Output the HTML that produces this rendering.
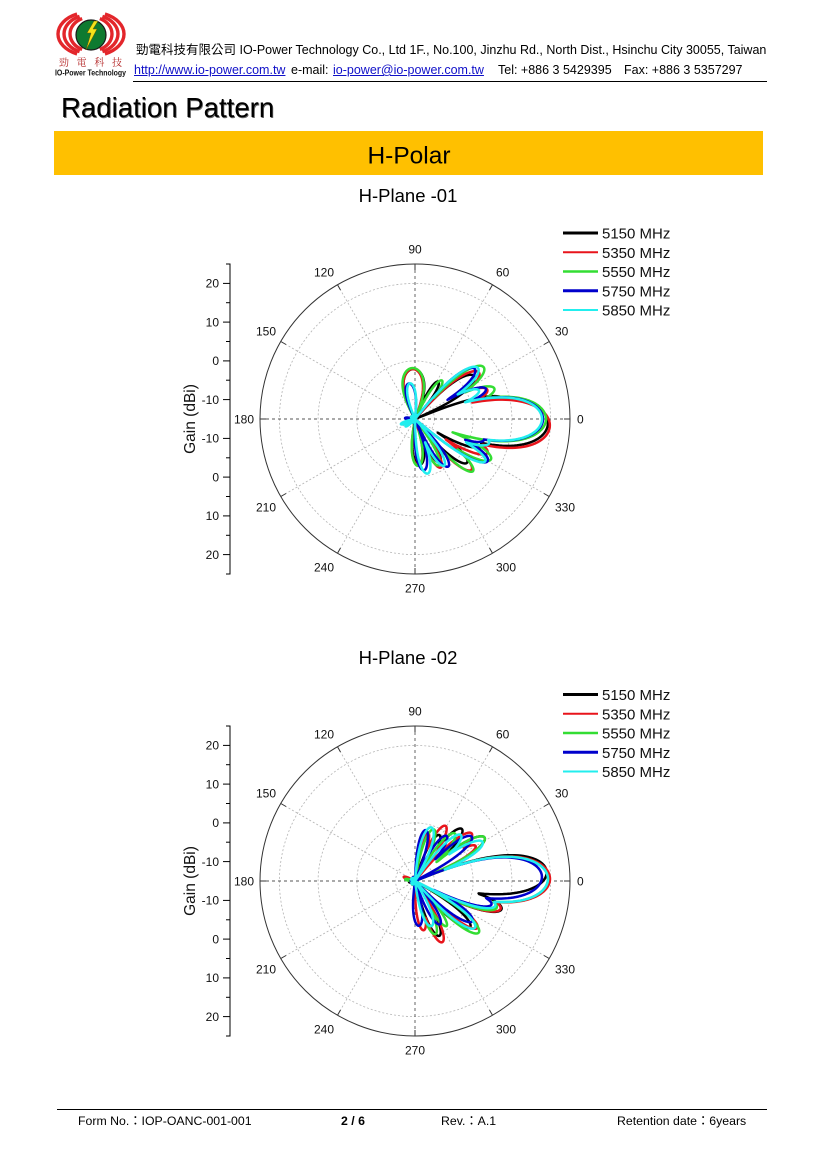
<!DOCTYPE html>
<html>
<head>
<meta charset="utf-8">
<style>
  html,body{margin:0;padding:0;background:#fff;}
  body{width:827px;height:1170px;position:relative;overflow:hidden;font-family:"Liberation Sans","Noto Sans CJK TC",Arial,sans-serif;color:#000;}
  .abs{position:absolute;white-space:nowrap;}
  .h{font-size:12.5px;line-height:14px;}
  .f{font-size:12.3px;line-height:14px;}
  .lnk{color:#1010c8;text-decoration:underline;}
  svg text{font-family:"Liberation Sans",Arial,sans-serif;}
</style>
</head>
<body>

<svg class="abs" style="left:0;top:0" width="827" height="1170" viewBox="0 0 827 1170" xmlns="http://www.w3.org/2000/svg">
  <!-- LOGO -->
  <g fill="none" stroke="#e3262b" stroke-width="3.4">
    <path d="M77.05,14.06 A33,22 0 0 0 77.05,53.94"/>
    <path d="M104.95,14.06 A33,22 0 0 1 104.95,53.94"/>
    <path d="M79.59,16.33 A27,19.5 0 0 0 79.59,51.67"/>
    <path d="M102.41,16.33 A27,19.5 0 0 1 102.41,51.67"/>
    <path d="M82.13,18.59 A21,17 0 0 0 82.13,49.41"/>
    <path d="M99.87,18.59 A21,17 0 0 1 99.87,49.41"/>
  </g>
  <circle cx="91" cy="35" r="15" fill="#0e7a30" stroke="#1a1a1a" stroke-width="1.2"/>
  <polygon points="94,21 87,33 91,33 86,50 97,29 93,29 98,21" fill="#f4e21a" stroke="#6b5a00" stroke-width="0.5"/>
  <text x="59" y="66" font-size="10" fill="#b22222" style="font-family:'Noto Serif CJK SC','Noto Sans CJK TC',serif" textLength="63" lengthAdjust="spacing">勁 電 科 技</text>
  <text x="55" y="75.5" font-size="8.5" font-weight="bold" fill="#111" textLength="71" lengthAdjust="spacingAndGlyphs">IO-Power Technology</text>

  <line x1="133" y1="81.5" x2="767" y2="81.5" stroke="#000" stroke-width="1"/>
  <line x1="57" y1="1109.5" x2="767" y2="1109.5" stroke="#000" stroke-width="1"/>

  <rect x="54" y="131" width="709" height="44" fill="#FFC000"/>
  <text x="409" y="163.5" font-size="24.5" text-anchor="middle">H-Polar</text>

  <text x="408" y="202" font-size="18.5" text-anchor="middle">H-Plane -01</text>
  <text x="408" y="664" font-size="18.5" text-anchor="middle">H-Plane -02</text>

  <!-- ============ CHART 1 ============ -->
  <g transform="translate(415,419)">
    <g fill="none" stroke="#b4b4b4" stroke-width="0.8" stroke-dasharray="2,2">
      <circle r="19.4"/><circle r="58.1"/><circle r="96.9"/><circle r="135.6"/>
      <line x1="0" y1="0" x2="134.2" y2="-77.5"/>
      <line x1="0" y1="0" x2="77.5" y2="-134.2"/>
      <line x1="0" y1="0" x2="-77.5" y2="-134.2"/>
      <line x1="0" y1="0" x2="-134.2" y2="-77.5"/>
      <line x1="0" y1="0" x2="-134.2" y2="77.5"/>
      <line x1="0" y1="0" x2="-77.5" y2="134.2"/>
      <line x1="0" y1="0" x2="77.5" y2="134.2"/>
      <line x1="0" y1="0" x2="134.2" y2="77.5"/>
    </g>
    <g fill="none" stroke="#555" stroke-width="0.9" stroke-dasharray="3,3">
      <line x1="-155" y1="0" x2="155" y2="0"/>
      <line x1="0" y1="-155" x2="0" y2="155"/>
    </g>
    <circle r="155" fill="none" stroke="#333" stroke-width="1"/>
    <g stroke="#333" stroke-width="1">
      <line x1="149" y1="0" x2="155" y2="0"/><line x1="-149" y1="0" x2="-155" y2="0"/>
      <line x1="0" y1="149" x2="0" y2="155"/><line x1="0" y1="-149" x2="0" y2="-155"/>
      <line x1="129" y1="-74.5" x2="134.2" y2="-77.5"/><line x1="74.5" y1="-129" x2="77.5" y2="-134.2"/>
      <line x1="-129" y1="-74.5" x2="-134.2" y2="-77.5"/><line x1="-74.5" y1="-129" x2="-77.5" y2="-134.2"/>
      <line x1="129" y1="74.5" x2="134.2" y2="77.5"/><line x1="74.5" y1="129" x2="77.5" y2="134.2"/>
      <line x1="-129" y1="74.5" x2="-134.2" y2="77.5"/><line x1="-74.5" y1="129" x2="-77.5" y2="134.2"/>
    </g>
    <g font-size="12" fill="#111">
      <text x="0" y="-165.7" text-anchor="middle">90</text>
      <text x="81" y="-142.7">60</text>
      <text x="140" y="-83.7">30</text>
      <text x="162" y="4.3">0</text>
      <text x="140" y="92.3">330</text>
      <text x="81" y="152.3">300</text>
      <text x="0" y="173.3" text-anchor="middle">270</text>
      <text x="-81" y="152.3" text-anchor="end">240</text>
      <text x="-139" y="92.3" text-anchor="end">210</text>
      <text x="-161" y="4.3" text-anchor="end">180</text>
      <text x="-139" y="-83.7" text-anchor="end">150</text>
      <text x="-81" y="-142.7" text-anchor="end">120</text>
    </g>
    <g stroke="#000" stroke-width="1">
      <line x1="-185" y1="-155.5" x2="-185" y2="155.5"/>
      <line x1="-189" y1="-155" x2="-185" y2="-155"/>
      <line x1="-192" y1="-135.6" x2="-185" y2="-135.6"/>
      <line x1="-189" y1="-116.3" x2="-185" y2="-116.3"/>
      <line x1="-192" y1="-96.9" x2="-185" y2="-96.9"/>
      <line x1="-189" y1="-77.5" x2="-185" y2="-77.5"/>
      <line x1="-192" y1="-58.1" x2="-185" y2="-58.1"/>
      <line x1="-189" y1="-38.8" x2="-185" y2="-38.8"/>
      <line x1="-192" y1="-19.4" x2="-185" y2="-19.4"/>
      <line x1="-192" y1="19.4" x2="-185" y2="19.4"/>
      <line x1="-189" y1="38.8" x2="-185" y2="38.8"/>
      <line x1="-192" y1="58.1" x2="-185" y2="58.1"/>
      <line x1="-189" y1="77.5" x2="-185" y2="77.5"/>
      <line x1="-192" y1="96.9" x2="-185" y2="96.9"/>
      <line x1="-189" y1="116.3" x2="-185" y2="116.3"/>
      <line x1="-192" y1="135.6" x2="-185" y2="135.6"/>
      <line x1="-189" y1="155" x2="-185" y2="155"/>
    </g>
    <g font-size="12" fill="#111" text-anchor="end">
      <text x="-196" y="-131.3">20</text>
      <text x="-196" y="-92.6">10</text>
      <text x="-196" y="-53.8">0</text>
      <text x="-196" y="-15.1">-10</text>
      <text x="-196" y="23.7">-10</text>
      <text x="-196" y="62.4">0</text>
      <text x="-196" y="101.2">10</text>
      <text x="-196" y="139.9">20</text>
    </g>
    <text transform="translate(-220,0) rotate(-90)" font-size="15.5" text-anchor="middle" fill="#111">Gain (dBi)</text>
    <g id="curves1" fill="none" stroke-width="2.5" stroke-linejoin="round"></g>
  </g>
  <g font-size="15" fill="#111">
    <line x1="563" y1="233" x2="598" y2="233" stroke="#000" stroke-width="3"/>
    <text x="602" y="238.5">5150 MHz</text>
    <line x1="563" y1="252.3" x2="598" y2="252.3" stroke="#e8141b" stroke-width="2"/>
    <text x="602" y="257.8">5350 MHz</text>
    <line x1="563" y1="271.5" x2="598" y2="271.5" stroke="#33dd33" stroke-width="2.5"/>
    <text x="602" y="277">5550 MHz</text>
    <line x1="563" y1="290.8" x2="598" y2="290.8" stroke="#0000cc" stroke-width="3"/>
    <text x="602" y="296.3">5750 MHz</text>
    <line x1="563" y1="310" x2="598" y2="310" stroke="#22eeee" stroke-width="2"/>
    <text x="602" y="315.5">5850 MHz</text>
  </g>

  <!-- ============ CHART 2 ============ -->
  <g transform="translate(415,881)">
    <g fill="none" stroke="#b4b4b4" stroke-width="0.8" stroke-dasharray="2,2">
      <circle r="19.4"/><circle r="58.1"/><circle r="96.9"/><circle r="135.6"/>
      <line x1="0" y1="0" x2="134.2" y2="-77.5"/>
      <line x1="0" y1="0" x2="77.5" y2="-134.2"/>
      <line x1="0" y1="0" x2="-77.5" y2="-134.2"/>
      <line x1="0" y1="0" x2="-134.2" y2="-77.5"/>
      <line x1="0" y1="0" x2="-134.2" y2="77.5"/>
      <line x1="0" y1="0" x2="-77.5" y2="134.2"/>
      <line x1="0" y1="0" x2="77.5" y2="134.2"/>
      <line x1="0" y1="0" x2="134.2" y2="77.5"/>
    </g>
    <g fill="none" stroke="#555" stroke-width="0.9" stroke-dasharray="3,3">
      <line x1="-155" y1="0" x2="155" y2="0"/>
      <line x1="0" y1="-155" x2="0" y2="155"/>
    </g>
    <circle r="155" fill="none" stroke="#333" stroke-width="1"/>
    <g stroke="#333" stroke-width="1">
      <line x1="149" y1="0" x2="155" y2="0"/><line x1="-149" y1="0" x2="-155" y2="0"/>
      <line x1="0" y1="149" x2="0" y2="155"/><line x1="0" y1="-149" x2="0" y2="-155"/>
      <line x1="129" y1="-74.5" x2="134.2" y2="-77.5"/><line x1="74.5" y1="-129" x2="77.5" y2="-134.2"/>
      <line x1="-129" y1="-74.5" x2="-134.2" y2="-77.5"/><line x1="-74.5" y1="-129" x2="-77.5" y2="-134.2"/>
      <line x1="129" y1="74.5" x2="134.2" y2="77.5"/><line x1="74.5" y1="129" x2="77.5" y2="134.2"/>
      <line x1="-129" y1="74.5" x2="-134.2" y2="77.5"/><line x1="-74.5" y1="129" x2="-77.5" y2="134.2"/>
    </g>
    <g font-size="12" fill="#111">
      <text x="0" y="-165.7" text-anchor="middle">90</text>
      <text x="81" y="-142.7">60</text>
      <text x="140" y="-83.7">30</text>
      <text x="162" y="4.3">0</text>
      <text x="140" y="92.3">330</text>
      <text x="81" y="152.3">300</text>
      <text x="0" y="173.3" text-anchor="middle">270</text>
      <text x="-81" y="152.3" text-anchor="end">240</text>
      <text x="-139" y="92.3" text-anchor="end">210</text>
      <text x="-161" y="4.3" text-anchor="end">180</text>
      <text x="-139" y="-83.7" text-anchor="end">150</text>
      <text x="-81" y="-142.7" text-anchor="end">120</text>
    </g>
    <g stroke="#000" stroke-width="1">
      <line x1="-185" y1="-155.5" x2="-185" y2="155.5"/>
      <line x1="-189" y1="-155" x2="-185" y2="-155"/>
      <line x1="-192" y1="-135.6" x2="-185" y2="-135.6"/>
      <line x1="-189" y1="-116.3" x2="-185" y2="-116.3"/>
      <line x1="-192" y1="-96.9" x2="-185" y2="-96.9"/>
      <line x1="-189" y1="-77.5" x2="-185" y2="-77.5"/>
      <line x1="-192" y1="-58.1" x2="-185" y2="-58.1"/>
      <line x1="-189" y1="-38.8" x2="-185" y2="-38.8"/>
      <line x1="-192" y1="-19.4" x2="-185" y2="-19.4"/>
      <line x1="-192" y1="19.4" x2="-185" y2="19.4"/>
      <line x1="-189" y1="38.8" x2="-185" y2="38.8"/>
      <line x1="-192" y1="58.1" x2="-185" y2="58.1"/>
      <line x1="-189" y1="77.5" x2="-185" y2="77.5"/>
      <line x1="-192" y1="96.9" x2="-185" y2="96.9"/>
      <line x1="-189" y1="116.3" x2="-185" y2="116.3"/>
      <line x1="-192" y1="135.6" x2="-185" y2="135.6"/>
      <line x1="-189" y1="155" x2="-185" y2="155"/>
    </g>
    <g font-size="12" fill="#111" text-anchor="end">
      <text x="-196" y="-131.3">20</text>
      <text x="-196" y="-92.6">10</text>
      <text x="-196" y="-53.8">0</text>
      <text x="-196" y="-15.1">-10</text>
      <text x="-196" y="23.7">-10</text>
      <text x="-196" y="62.4">0</text>
      <text x="-196" y="101.2">10</text>
      <text x="-196" y="139.9">20</text>
    </g>
    <text transform="translate(-220,0) rotate(-90)" font-size="15.5" text-anchor="middle" fill="#111">Gain (dBi)</text>
    <g id="curves2" fill="none" stroke-width="2.5" stroke-linejoin="round"></g>
  </g>
  <g font-size="15" fill="#111">
    <line x1="563" y1="694.5" x2="598" y2="694.5" stroke="#000" stroke-width="3"/>
    <text x="602" y="700">5150 MHz</text>
    <line x1="563" y1="713.8" x2="598" y2="713.8" stroke="#e8141b" stroke-width="2"/>
    <text x="602" y="719.3">5350 MHz</text>
    <line x1="563" y1="733" x2="598" y2="733" stroke="#33dd33" stroke-width="2.5"/>
    <text x="602" y="738.5">5550 MHz</text>
    <line x1="563" y1="752.3" x2="598" y2="752.3" stroke="#0000cc" stroke-width="3"/>
    <text x="602" y="757.8">5750 MHz</text>
    <line x1="563" y1="771.5" x2="598" y2="771.5" stroke="#22eeee" stroke-width="2"/>
    <text x="602" y="777">5850 MHz</text>
  </g>
</svg>

<div class="abs h" style="left:136px;top:43px;">勁電科技有限公司 IO-Power Technology Co., Ltd 1F., No.100, Jinzhu Rd., North Dist., Hsinchu City 30055, Taiwan</div>
<div class="abs h" style="left:134px;top:63px;"><span class="lnk">http://www.io-power.com.tw</span></div>
<div class="abs h" style="left:291px;top:63px;">e-mail:</div>
<div class="abs h" style="left:333px;top:63px;"><span class="lnk">io-power@io-power.com.tw</span></div>
<div class="abs h" style="left:498px;top:63px;">Tel: +886 3 5429395</div>
<div class="abs h" style="left:624px;top:63px;">Fax: +886 3 5357297</div>

<div class="abs" style="left:61px;top:91px;font-size:27.6px;line-height:34px;text-shadow:0.8px 0.8px 0 #666;">Radiation Pattern</div>

<div class="abs f" style="left:78px;top:1114px;">Form No.：IOP-OANC-001-001</div>
<div class="abs f" style="left:341px;top:1114px;font-weight:bold;">2 / 6</div>
<div class="abs f" style="left:441px;top:1114px;">Rev.：A.1</div>
<div class="abs f" style="left:617px;top:1114px;">Retention date：6years</div>

<script>
(function(){
  var NS="http://www.w3.org/2000/svg";
  var COL={k:"#000000",r:"#e8141b",g:"#33dd33",b:"#0000cc",c:"#22eeee"};
  var order=["k","r","g","b","c"];
  var D1={
    k:[[-2,133,22],[12,92,10],[36,73,12],[58,44,9],[92,50,26],[-22,72,10],[-40,68,10],[-60,50,10],[-84,46,15],[200,8,20]],
    r:[[-3,135,22],[22,78,10],[36,79,12],[93,50,24],[-25,80,10],[-42,76,10],[-62,55,10],[-86,46,14],[190,8,15]],
    g:[[0,131,21],[21,85,10],[37,86,12],[55,47,9],[93,51,26],[-28,86,10],[-42,78,9],[-63,52,10],[-86,47,14],[180,9,12]],
    b:[[0,128,21],[23,77,9],[40,78,11],[100,36,16],[-17,72,9],[-30,84,10],[-55,58,10],[-80,52,12],[175,10,10]],
    c:[[0,127,21],[24,70,9],[39,81,12],[98,36,14],[-18,78,10],[-31,82,9],[-58,55,10],[-77,56,12],[200,15,9],[218,12,9]]
  };
  var D2={
    k:[[4,132,18],[32,82,10],[48,70,10],[62,52,10],[-18,91,10],[-40,72,10],[-66,60,10],[190,6,15]],
    r:[[1,135,21],[30,70,8],[40,74,10],[61,63,10],[75,50,8],[-18,90,10],[-37,78,9],[-66,67,10],[-80,50,10],[160,12,9]],
    g:[[1,133,21],[32,82,10],[50,62,10],[70,55,10],[-18,86,10],[-39,82,10],[-55,55,8],[-69,57,10],[170,10,9]],
    b:[[2,127,20],[38,72,10],[55,55,10],[78,52,10],[-17,80,9],[-35,70,10],[-60,50,10],[-85,45,12]],
    c:[[1,133,21],[30,78,10],[45,65,10],[73,56,12],[-17,84,10],[-38,76,10],[-70,48,12]]
  };
  function pathFor(lobes,seed){
    var pts=[];
    for(var a=0;a<360;a+=0.5){
      var r=2.5+1.2*Math.sin((a+seed)*0.31)+0.8*Math.sin((a*1.7+seed)*0.23);
      for(var i=0;i<lobes.length;i++){
        var L=lobes[i];
        var d=((a-L[0])%360+540)%360-180;
        if(Math.abs(d)<L[2]){
          var u=d/L[2];
          var v=L[1]*Math.pow(1-u*u,0.6);
          if(v>r) r=v;
        }
      }
      var t=a*Math.PI/180;
      pts.push((r*Math.cos(t)).toFixed(2)+","+(-r*Math.sin(t)).toFixed(2));
    }
    return "M"+pts.join("L")+"Z";
  }
  function draw(id,D){
    var g=document.getElementById(id);
    order.forEach(function(k,i){
      var p=document.createElementNS(NS,"path");
      p.setAttribute("d",pathFor(D[k],i*37));
      p.setAttribute("stroke",COL[k]);
      g.appendChild(p);
    });
  }
  draw("curves1",D1);
  draw("curves2",D2);
})();
</script>
</body>
</html>
